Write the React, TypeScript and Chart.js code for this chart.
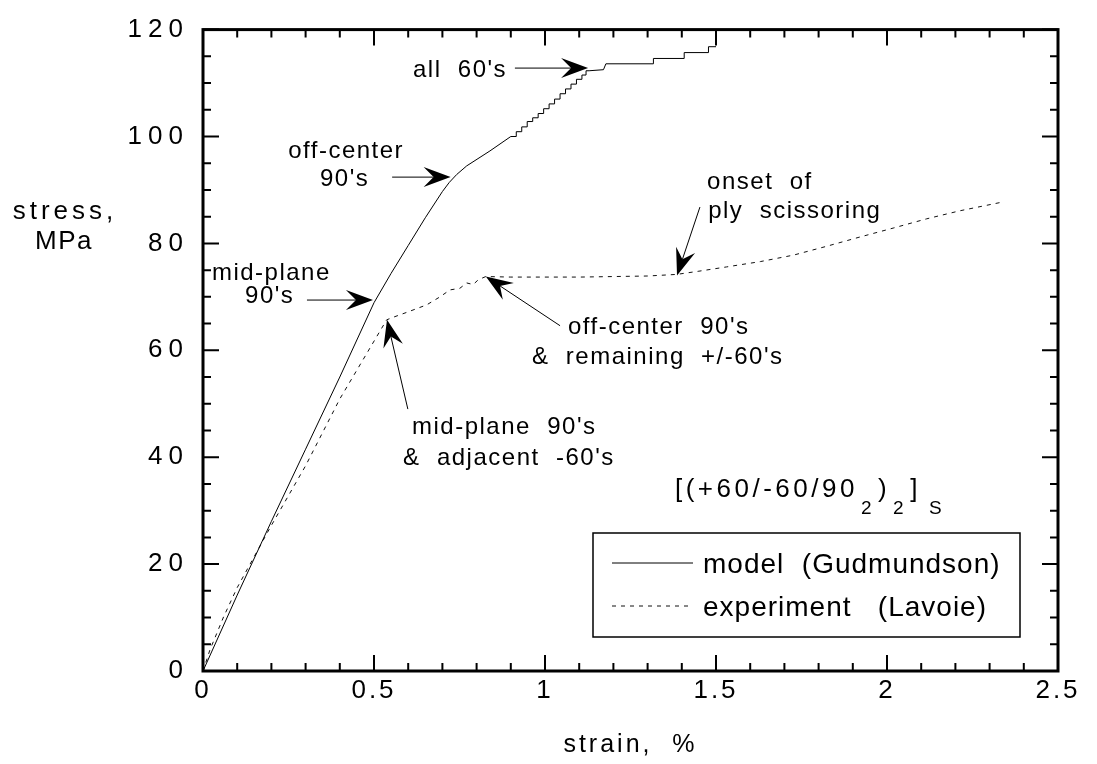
import React, { useEffect, useRef } from 'react';
import { Chart, registerables } from 'chart.js';

Chart.register(...registerables);

// ---------- data ----------
const modelStrain = [
  0, 0.1, 0.2, 0.3, 0.4, 0.5, 0.55, 0.6, 0.65, 0.7, 0.72, 0.742, 0.771, 0.839, 0.9,
  0.916, 0.916, 0.932, 0.932, 0.948, 0.948, 0.964, 0.964, 0.98, 0.98, 0.996, 0.996, 1.012, 1.012,
  1.028, 1.028, 1.044, 1.044, 1.06, 1.06, 1.076, 1.076, 1.092, 1.092, 1.108, 1.108, 1.12, 1.12,
  1.129, 1.171, 1.178, 1.317, 1.317, 1.407, 1.407, 1.478, 1.478, 1.5,
];
const modelStress = [
  0, 14.2, 28.0, 41.5, 55.0, 68.9, 74.4, 79.6, 84.8, 89.7, 91.4, 92.9, 94.5, 97.3, 100.0,
  100.0, 100.9, 100.9, 101.8, 101.8, 102.8, 102.8, 103.5, 103.5, 104.3, 104.3, 105.2, 105.2, 106.1,
  106.1, 107.0, 107.0, 108.0, 108.0, 108.9, 108.9, 109.8, 109.8, 110.7, 110.7, 111.5, 111.5, 112.3,
  112.3, 112.5, 113.6, 113.6, 114.6, 114.6, 115.7, 115.7, 116.8, 116.8,
];

const expStrain = [
  0, 0.02, 0.06, 0.1, 0.196, 0.3, 0.4, 0.537, 0.557, 0.6, 0.654, 0.693, 0.722, 0.751, 0.771, 0.79,
  0.805, 0.827, 0.9, 1.0, 1.1, 1.2, 1.3, 1.385, 1.45, 1.531, 1.63, 1.726, 1.82, 1.921, 2.02, 2.116,
  2.213, 2.335,
];
const expStress = [
  0, 3.9, 10.1, 15.6, 26.8, 38.4, 50.9, 65.7, 66.2, 67.2, 68.5, 70, 71.3, 71.6, 72.6, 72.3,
  73.2, 73.8, 73.7, 73.7, 73.7, 73.8, 73.9, 74.2, 74.8, 75.6, 76.6, 77.8, 79.4, 81.2, 82.9, 84.6,
  86.1, 87.7,
];

const seriesLabels = ['model  (Gudmundson)', 'experiment   (Lavoie)'];

const xMajorValues = [0, 0.5, 1, 1.5, 2, 2.5];
const xTickLabels = ['0', '0.5', '1', '1.5', '2', '2.5'];
const yMajorValues = [0, 20, 40, 60, 80, 100, 120];
const yTickLabels = ['0', '20', '40', '60', '80', '100', '120'];

const xAxisTitle = 'strain,  %';
const yAxisTitle = ['stress,', 'MPa'];

// annotation texts anchored in data coordinates (left edge, vertical centre)
const noteTexts = ["all  60's", 'off-center', "90's", 'mid-plane', "90's", "off-center  90's", '&  remaining  +/-60\'s', "mid-plane  90's", '&  adjacent  -60\'s', 'onset  of', 'ply  scissoring'];
const noteX = [0.614, 0.249, 0.342, 0.026, 0.123, 1.067, 0.962, 0.611, 0.585, 1.474, 1.477];
const noteY = [112.4, 97.2, 92.0, 74.4, 70.1, 64.2, 58.6, 45.6, 39.7, 91.4, 85.9];

// arrows: tail -> tip, data coordinates
const arrowFromX = [0.912, 0.553, 0.304, 1.044, 0.599, 1.453];
const arrowFromY = [112.8, 92.4, 69.4, 64.6, 49.0, 86.8];
const arrowToX = [1.126, 0.724, 0.497, 0.827, 0.538, 1.386];
const arrowToY = [112.8, 92.4, 69.4, 73.8, 65.7, 74.0];

// layup formula pieces: [text, isSubscript]
const formulaParts: [string, boolean][] = [['[(+60/-60/90', false], ['2', true], [')', false], ['2', true], [']', false], ['S', true]];
const formulaX = 1.38;
const formulaY = 33.9;

const FONT = '"Liberation Sans", Arial, Helvetica, sans-serif';

function nearIdx(list: number[], v: number) {
  return list.findIndex((m) => Math.abs(m - v) < 1e-6);
}

function drawArrow(ctx: any, x1: number, y1: number, x2: number, y2: number) {
  const ang = Math.atan2(y2 - y1, x2 - x1);
  const c = Math.cos(ang), s = Math.sin(ang);
  const L = 27, W = 10, N = 17;
  const bx = x2 - L * c, by = y2 - L * s;
  const nx = x2 - N * c, ny = y2 - N * s;
  ctx.beginPath();
  ctx.moveTo(x1, y1);
  ctx.lineTo(nx, ny);
  ctx.lineWidth = 1;
  ctx.stroke();
  ctx.beginPath();
  ctx.moveTo(x2, y2);
  ctx.lineTo(bx - W * s, by + W * c);
  ctx.lineTo(nx, ny);
  ctx.lineTo(bx + W * s, by - W * c);
  ctx.closePath();
  ctx.fill();
}

const decorPlugin = {
  id: 'decor',
  beforeDraw(chart: any) {
    // x-axis title and x tick labels (z = 0)
    chart.ctx.letterSpacing = '3px';
  },
  beforeDatasetsDraw(chart: any) {
    chart.ctx.letterSpacing = '0px';
  },
  afterDatasetsDraw(chart: any) {
    const ctx = chart.ctx;
    const a = chart.chartArea;
    const x = chart.scales.x;
    const y = chart.scales.y;
    ctx.save();
    ctx.letterSpacing = '0px';
    ctx.strokeStyle = '#000';
    ctx.fillStyle = '#000';

    // frame
    ctx.lineWidth = 3;
    ctx.strokeRect(a.left, a.top, a.right - a.left, a.bottom - a.top);

    // inward ticks, mirrored
    ctx.lineWidth = 2;
    ctx.beginPath();
    x.ticks.forEach((t: any) => {
      const px = x.getPixelForValue(t.value);
      const len = nearIdx(xMajorValues, t.value) >= 0 ? 16 : 8;
      ctx.moveTo(px, a.bottom);
      ctx.lineTo(px, a.bottom - len);
      ctx.moveTo(px, a.top);
      ctx.lineTo(px, a.top + len);
    });
    y.ticks.forEach((t: any) => {
      const py = y.getPixelForValue(t.value);
      const len = nearIdx(yMajorValues, t.value) >= 0 ? 16 : 8;
      ctx.moveTo(a.left, py);
      ctx.lineTo(a.left + len, py);
      ctx.moveTo(a.right, py);
      ctx.lineTo(a.right - len, py);
    });
    ctx.stroke();

    // annotation texts
    ctx.font = `24px ${FONT}`;
    ctx.letterSpacing = '1.5px';
    ctx.textAlign = 'left';
    ctx.textBaseline = 'middle';
    noteTexts.forEach((txt, i) => {
      ctx.fillText(txt, x.getPixelForValue(noteX[i]), y.getPixelForValue(noteY[i]));
    });

    // arrows
    arrowFromX.forEach((_, i) => {
      drawArrow(
        ctx,
        x.getPixelForValue(arrowFromX[i]), y.getPixelForValue(arrowFromY[i]),
        x.getPixelForValue(arrowToX[i]), y.getPixelForValue(arrowToY[i])
      );
    });

    // formula
    let fx = x.getPixelForValue(formulaX);
    const fy = y.getPixelForValue(formulaY);
    ctx.letterSpacing = '3.5px';
    formulaParts.forEach(([txt, sub], i) => {
      ctx.font = sub ? `19px ${FONT}` : `26px ${FONT}`;
      if (i === formulaParts.length - 1) fx += 5;
      ctx.fillText(txt, fx, sub ? fy + 19 : fy);
      fx += ctx.measureText(txt).width + 3;
    });

    // legend box
    const bw = 427, bh = 104;
    const bx = a.right - 38 - bw;
    const by = a.bottom - 34 - bh;
    ctx.letterSpacing = '0px';
    ctx.lineWidth = 1.5;
    ctx.strokeRect(bx, by, bw, bh);
    ctx.font = `28px ${FONT}`;
    ctx.letterSpacing = '1px';
    chart.data.datasets.forEach((ds: any, i: number) => {
      const ry = by + 30 + i * 43;
      ctx.save();
      ctx.lineWidth = ds.borderWidth;
      ctx.strokeStyle = ds.borderColor;
      ctx.setLineDash(ds.borderDash || []);
      ctx.beginPath();
      ctx.moveTo(bx + 19, ry);
      ctx.lineTo(bx + 100, ry);
      ctx.stroke();
      ctx.restore();
      ctx.fillText(ds.label, bx + 110, ry + 2);
    });

    ctx.restore();
    // y tick labels (drawn next, z = 1) get wide letter spacing
    ctx.letterSpacing = '6px';
  },
  afterDraw(chart: any) {
    const ctx = chart.ctx;
    ctx.save();
    ctx.fillStyle = '#000';
    ctx.font = `26px ${FONT}`;
    ctx.textAlign = 'center';
    ctx.textBaseline = 'middle';
    ctx.letterSpacing = '4px';
    ctx.fillText(yAxisTitle[0], 65, 212);
    ctx.letterSpacing = '1.5px';
    ctx.fillText(yAxisTitle[1], 64, 242);
    ctx.restore();
    ctx.letterSpacing = '0px';
  },
};

export default function App() {
  const ref = useRef<HTMLCanvasElement | null>(null);

  useEffect(() => {
    if (!ref.current) return;
    const chart = new Chart(ref.current, {
      type: 'line',
      data: {
        datasets: [
          {
            label: seriesLabels[0],
            data: modelStrain.map((v, i) => ({ x: v, y: modelStress[i] })),
            borderColor: '#000',
            borderWidth: 1,
            pointRadius: 0,
            tension: 0,
          },
          {
            label: seriesLabels[1],
            data: expStrain.map((v, i) => ({ x: v, y: expStress[i] })),
            borderColor: '#111',
            borderWidth: 1,
            borderDash: [4, 5],
            pointRadius: 0,
            tension: 0,
          },
        ],
      },
      options: {
        animation: false,
        responsive: true,
        maintainAspectRatio: false,
        layout: { padding: { top: 24, right: 39, left: 0, bottom: 0 } },
        plugins: { legend: { display: false }, tooltip: { enabled: false } },
        scales: {
          x: {
            type: 'linear',
            min: 0,
            max: 2.5,
            grid: { display: false, drawTicks: false },
            border: { display: false },
            ticks: {
              stepSize: 0.1,
              autoSkip: false,
              maxRotation: 0,
              minRotation: 0,
              padding: 4,
              z: 0,
              color: '#000',
              font: { family: FONT, size: 26 },
              callback: (v: any) => {
                const i = nearIdx(xMajorValues, Number(v));
                return i >= 0 ? xTickLabels[i] : '';
              },
            },
            title: {
              display: true,
              text: xAxisTitle,
              color: '#000',
              font: { family: FONT, size: 25 },
              padding: { top: 0, bottom: 4 },
            },
            afterFit: (s: any) => {
              s.height = 93;
            },
          },
          y: {
            type: 'linear',
            min: 0,
            max: 120,
            grid: { display: false, drawTicks: false },
            border: { display: false },
            ticks: {
              stepSize: 5,
              autoSkip: false,
              padding: 14,
              z: 1,
              color: '#000',
              font: { family: FONT, size: 26 },
              callback: (v: any) => {
                const i = nearIdx(yMajorValues, Number(v));
                return i >= 0 ? yTickLabels[i] : '';
              },
            },
            afterFit: (s: any) => {
              s.width = 203;
            },
          },
        },
      } as any,
      plugins: [decorPlugin as any],
    });
    return () => chart.destroy();
  }, []);

  return (
    <div style={{ position: 'fixed', left: 0, top: 0, width: 1097, height: 764, background: '#fff' }}>
      <canvas ref={ref} />
    </div>
  );
}
